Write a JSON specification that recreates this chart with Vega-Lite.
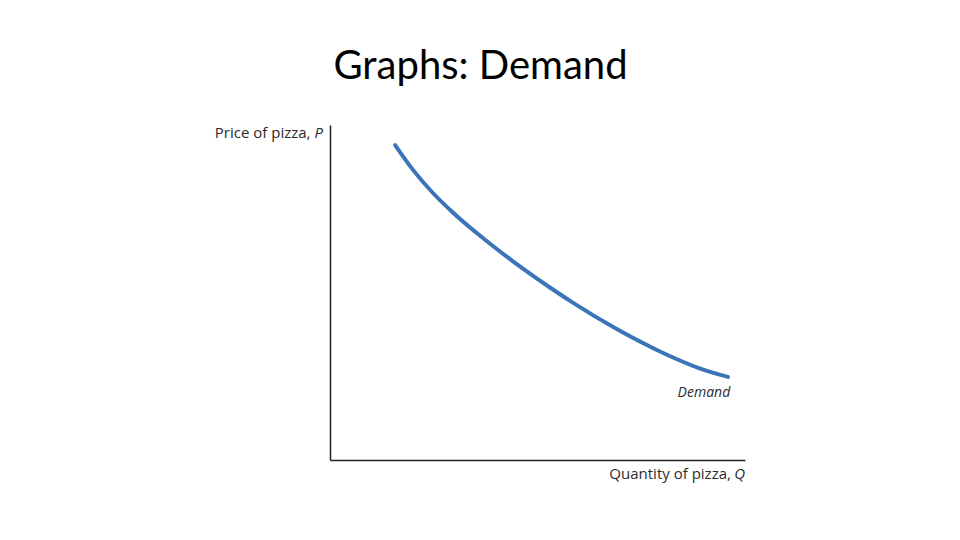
{
  "$schema": "https://vega.github.io/schema/vega-lite/v6.json",
  "width": 415,
  "height": 335,
  "autosize": {"type": "none"},
  "padding": {"left": 330, "top": 125, "right": 215, "bottom": 80},
  "background": "white",
  "title": {
    "text": "Graphs: Demand",
    "font": "Lato",
    "fontSize": 40,
    "fontWeight": "normal",
    "color": "#000000",
    "anchor": "middle",
    "baseline": "alphabetic",
    "offset": 6,
    "dx": -57
  },
  "config": {"view": {"stroke": null}},
  "datasets": {
    "demand": [
      {"q": 1.57, "p": 9.40},
      {"q": 2.00, "p": 8.66},
      {"q": 2.48, "p": 7.97},
      {"q": 2.96, "p": 7.39},
      {"q": 3.61, "p": 6.70},
      {"q": 4.41, "p": 5.93},
      {"q": 5.30, "p": 5.15},
      {"q": 5.86, "p": 4.69},
      {"q": 6.92, "p": 3.90},
      {"q": 7.95, "p": 3.24},
      {"q": 8.92, "p": 2.73},
      {"q": 9.59, "p": 2.48}
    ],
    "labels": [
      {"id": "yname", "text": "Price of pizza,", "q": -0.47, "p": 9.61},
      {"id": "yvar", "text": "P", "q": -0.17, "p": 9.61},
      {"id": "xname", "text": "Quantity of pizza,", "q": 9.66, "p": -0.57},
      {"id": "xvar", "text": "Q", "q": 10.0, "p": -0.57},
      {"id": "curve", "text": "Demand", "q": 9.01, "p": 1.88}
    ]
  },
  "layer": [
    {
      "data": {"name": "demand"},
      "mark": {"type": "line", "interpolate": "monotone", "color": "#3b74b9", "strokeWidth": 4, "strokeCap": "round"},
      "encoding": {
        "x": {"field": "q", "type": "quantitative", "scale": {"domain": [0, 10]},
          "axis": {"title": null, "labels": false, "ticks": false, "grid": false, "domainColor": "#222222", "domainWidth": 1.5}},
        "y": {"field": "p", "type": "quantitative", "scale": {"domain": [0, 10]},
          "axis": {"title": null, "labels": false, "ticks": false, "grid": false, "domainColor": "#222222", "domainWidth": 1.5}}
      }
    },
    {
      "data": {"name": "labels"},
      "transform": [{"filter": "datum.id === 'yname' || datum.id === 'xname'"}],
      "mark": {"type": "text", "align": "right", "baseline": "alphabetic", "font": "Open Sans", "fontSize": 15, "color": "#2b2b2b"},
      "encoding": {
        "x": {"field": "q", "type": "quantitative"},
        "y": {"field": "p", "type": "quantitative"},
        "text": {"field": "text"}
      }
    },
    {
      "data": {"name": "labels"},
      "transform": [{"filter": "datum.id === 'yvar' || datum.id === 'xvar'"}],
      "mark": {"type": "text", "align": "right", "baseline": "alphabetic", "font": "Open Sans", "fontSize": 15, "fontStyle": "italic", "color": "#2b2b2b"},
      "encoding": {
        "x": {"field": "q", "type": "quantitative"},
        "y": {"field": "p", "type": "quantitative"},
        "text": {"field": "text"}
      }
    },
    {
      "data": {"name": "labels"},
      "transform": [{"filter": "datum.id === 'curve'"}],
      "mark": {"type": "text", "align": "center", "baseline": "alphabetic", "font": "Open Sans", "fontSize": 14, "fontStyle": "italic", "color": "#2b2b2b"},
      "encoding": {
        "x": {"field": "q", "type": "quantitative"},
        "y": {"field": "p", "type": "quantitative"},
        "text": {"field": "text"}
      }
    }
  ]
}
